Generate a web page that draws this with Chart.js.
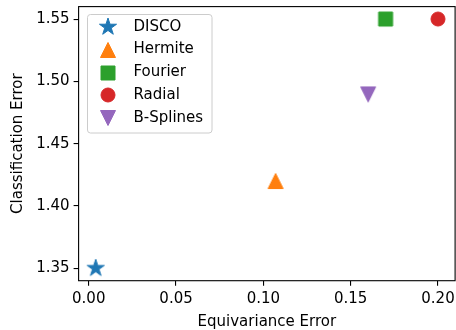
<!DOCTYPE html>
<html>
<head>
<meta charset="utf-8">
<script src="https://cdn.jsdelivr.net/npm/chart.js@4.4.1/dist/chart.umd.min.js"></script>
<style>
  html, body { margin: 0; padding: 0; background: #fff; }
  canvas { display: block; }
</style>
</head>
<body>
<canvas id="chart" width="456" height="330"></canvas>
<script>
// Scatter: equivariance error vs classification error, one point per basis.
const methods = ['DISCO', 'Hermite', 'Fourier', 'Radial', 'B-Splines'];
const equivarianceError = [0.004, 0.107, 0.17, 0.20, 0.16];
const classificationError = [1.35, 1.42, 1.55, 1.55, 1.4895];
const xTicks = [0, 0.05, 0.10, 0.15, 0.20];
const yTicks = [1.35, 1.40, 1.45, 1.50, 1.55];

// matplotlib tab10 + marker shapes
const COLORS = ['#1f77b4', '#ff7f0e', '#2ca02c', '#d62728', '#9467bd'];
const SHAPES = ['star', 'triUp', 'square', 'circle', 'triDown'];
const FONT = 'DejaVu Sans';

// Chart.js has no filled 5-point star, so every marker is a small canvas.
function makeMarker(kind, color) {
  const c = document.createElement('canvas');
  c.width = c.height = 24;
  const g = c.getContext('2d');
  g.translate(12, 12);
  g.fillStyle = color;
  g.strokeStyle = color;
  g.lineWidth = 1;
  g.beginPath();
  if (kind === 'star') {
    for (let i = 0; i < 10; i++) {
      const r = i % 2 ? 3.45 : 9.0;
      const a = Math.PI * i / 5;
      g.lineTo(r * Math.sin(a), -r * Math.cos(a));
    }
  } else if (kind === 'triUp') {
    g.moveTo(0, -7.5); g.lineTo(7.5, 7.5); g.lineTo(-7.5, 7.5);
  } else if (kind === 'triDown') {
    g.moveTo(0, 7.5); g.lineTo(7.5, -7.5); g.lineTo(-7.5, -7.5);
  } else if (kind === 'square') {
    g.rect(-7, -7, 14, 14);
  } else {
    g.arc(0, 0, 7, 0, Math.PI * 2);
  }
  g.closePath();
  g.fill();
  g.stroke();
  return c;
}

const datasets = methods.map((name, i) => ({
  label: name,
  data: [{ x: equivarianceError[i], y: classificationError[i] }],
  pointStyle: makeMarker(SHAPES[i], COLORS[i]),
  backgroundColor: COLORS[i],
  borderColor: COLORS[i]
}));

// Full box around the plot (matplotlib spines on all four sides).
const frame = {
  id: 'frame',
  afterDatasetsDraw(chart) {
    const { ctx, chartArea: a } = chart;
    ctx.save();
    ctx.strokeStyle = '#000';
    ctx.lineWidth = 1.1;
    ctx.strokeRect(a.left, a.top, a.right - a.left, a.bottom - a.top);
    ctx.restore();
  }
};

function roundRect(ctx, x, y, w, h, r) {
  ctx.beginPath();
  ctx.moveTo(x + r, y);
  ctx.arcTo(x + w, y, x + w, y + h, r);
  ctx.arcTo(x + w, y + h, x, y + h, r);
  ctx.arcTo(x, y + h, x, y, r);
  ctx.arcTo(x, y, x + w, y, r);
  ctx.closePath();
}

// Legend drawn inside the plot, upper left, like matplotlib's.
const insideLegend = {
  id: 'insideLegend',
  afterDraw(chart) {
    const ctx = chart.ctx;
    ctx.save();
    roundRect(ctx, 87.5, 14.5, 124.5, 118.5, 3);
    ctx.fillStyle = 'rgba(255,255,255,0.8)';
    ctx.fill();
    ctx.strokeStyle = '#cccccc';
    ctx.lineWidth = 1;
    ctx.stroke();
    ctx.font = '15px "' + FONT + '"';
    ctx.textBaseline = 'middle';
    ctx.fillStyle = '#000';
    chart.data.datasets.forEach((ds, i) => {
      const y = 26.7 + i * 22.9;
      ctx.drawImage(ds.pointStyle, 108 - 12, Math.round(y) - 12);
      ctx.fillText(ds.label, 133.5, y);
    });
    ctx.restore();
  }
};

const tickFont = { family: FONT, size: 15 };
const titleFont = { family: FONT, size: 15, lineHeight: 1 };
const tickGrid = {
  display: true, drawOnChartArea: false, drawTicks: true,
  tickLength: 5, color: '#000', lineWidth: 1.1
};

new Chart(document.getElementById('chart'), {
  type: 'scatter',
  data: { datasets },
  options: {
    responsive: false,
    animation: false,
    layout: { autoPadding: false, padding: { top: 6.6, right: 0.9, bottom: 0, left: 0 } },
    plugins: { legend: { display: false }, tooltip: { enabled: false } },
    scales: {
      x: {
        type: 'linear',
        min: -0.0058,
        max: 0.2098,
        afterBuildTicks: s => { s.ticks = xTicks.map(v => ({ value: v })); },
        afterFit: s => { s.height = 49.3; s.paddingLeft = 0; s.paddingRight = 0; },
        grid: tickGrid,
        border: { display: false },
        ticks: {
          color: '#000', font: tickFont, padding: 4,
          maxRotation: 0, autoSkip: false,
          callback: v => v.toFixed(2)
        },
        title: {
          display: true, text: 'Equivariance Error', color: '#000',
          font: titleFont, padding: { top: 0, bottom: 0.5 }
        }
      },
      y: {
        type: 'linear',
        min: 1.34,
        max: 1.56,
        afterBuildTicks: s => { s.ticks = yTicks.map(v => ({ value: v })); },
        afterFit: s => { s.width = 78.6; s.paddingTop = 0; s.paddingBottom = 0; },
        grid: tickGrid,
        border: { display: false },
        ticks: {
          color: '#000', font: tickFont, padding: 4,
          autoSkip: false,
          callback: v => v.toFixed(2)
        },
        title: {
          display: true, text: 'Classification Error', color: '#000',
          font: titleFont, padding: { top: 11, bottom: 0 }
        }
      }
    }
  },
  plugins: [frame, insideLegend]
});
</script>
</body>
</html>
